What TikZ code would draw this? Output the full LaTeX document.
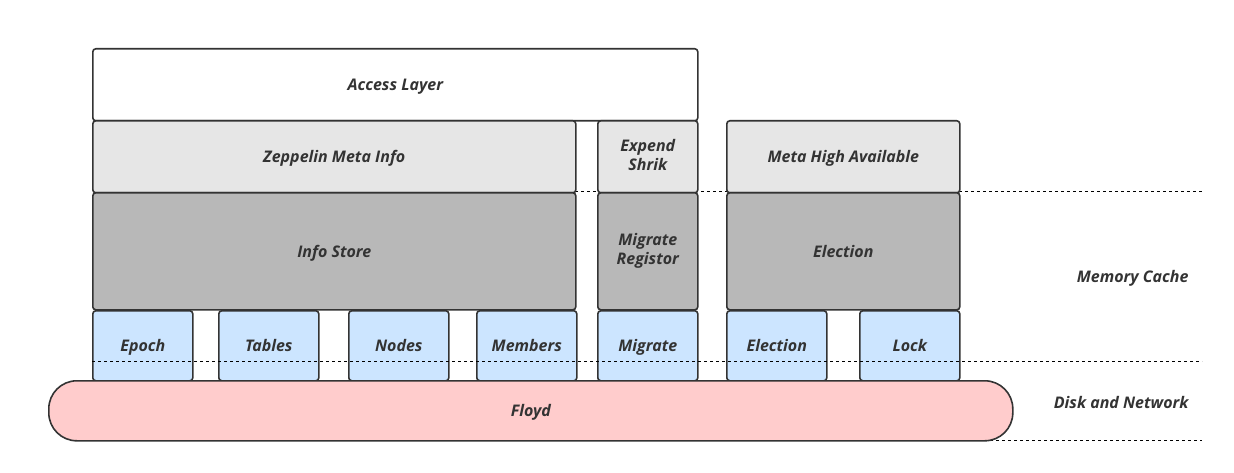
\documentclass[tikz,border=0pt]{standalone}
\usepackage{fontspec}
\setmainfont{Open Sans}
\usetikzlibrary{positioning}
\definecolor{edge}{RGB}{51,51,51}
\definecolor{meta}{RGB}{230,230,230}
\definecolor{store}{RGB}{184,184,184}
\definecolor{leaf}{RGB}{204,229,255}
\definecolor{disk}{RGB}{255,204,204}
\newcommand{\lblstrut}{\rule[-4.5pt]{0pt}{20.5pt}}
\tikzset{
	blk/.style={draw=edge, line width=1.6pt, rounded corners=3pt, anchor=north west,
		inner sep=0pt, align=center, text=edge, execute at begin node=\lblstrut,
		font=\fontsize{16}{19}\selectfont\bfseries\itshape},
	tier/.style={text=edge, anchor=east, font=\fontsize{16}{19}\selectfont\bfseries\itshape},
	sep/.style={dashed, line width=1pt, black}
}

\begin{document}
\begin{tikzpicture}[x=1pt, y=-1pt]
	\useasboundingbox (0, 0) rectangle (1234, 473);
	% separators behind the boxes
	\draw (575, 192)--(1202, 192) [sep];
	\draw (990, 440)--(1202, 440) [sep];
	% top layers
	\node (access) [blk, fill=white, minimum width=605pt, minimum height=72pt] at (92, 48) {Access Layer};
	\node (zmeta) [blk, fill=meta, minimum width=483pt, minimum height=72pt] at (92, 120) {Zeppelin Meta Info};
	\node (expend) [blk, fill=meta, minimum width=100pt, minimum height=72pt] at (597, 120) {Expend\\Shrik};
	\node (mha) [blk, fill=meta, minimum width=233pt, minimum height=72pt] at (726, 120) {Meta High Available};
	% middle layer
	\node (infostore) [blk, fill=store, minimum width=483pt, minimum height=117pt] at (92, 192) {Info Store};
	\node (registor) [blk, fill=store, minimum width=100pt, minimum height=117pt] at (597, 192) {Migrate\\Registor};
	\node (election) [blk, fill=store, minimum width=233pt, minimum height=117pt] at (726, 192) {Election};
	% leaves
	\foreach \x/\name/\txt in {92/epoch/Epoch, 218/tables/Tables, 348/nodes/Nodes, 476/members/Members, 597/migrate/Migrate, 726/elect/Election, 859/lock/Lock}
		\node (\name) [blk, fill=leaf, minimum width=100pt, minimum height=70pt] at (\x, 310) {\txt};
	% storage
	\node (floyd) [blk, fill=disk, rounded corners=28pt, minimum width=964pt, minimum height=60pt] at (48, 380) {Floyd};
	\draw (92, 361)--(1202, 361) [sep];
	\node (mem) [tier] at (1192, 278) {Memory Cache};
	\node (dsk) [tier] at (1192, 402) {Disk and Network};
\end{tikzpicture}
\end{document}
